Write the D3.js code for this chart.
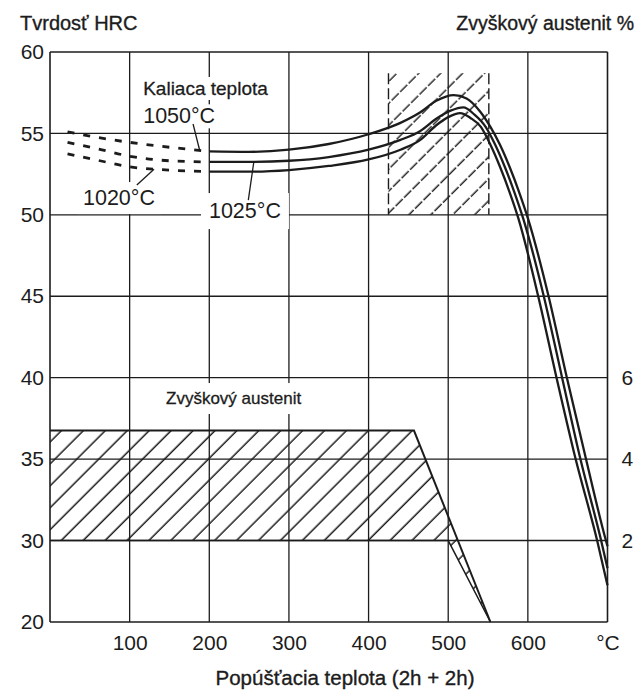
<!DOCTYPE html>
<html>
<head>
<meta charset="utf-8">
<script src="https://cdn.jsdelivr.net/npm/d3@7"></script>
<style>
  body { margin: 0; background: #fff; }
  text { font-family: "Liberation Sans", Arial, sans-serif; fill: #1c1c1c; }
</style>
</head>
<body>
<div id="chart"></div>
<script>
var svgWidth = 638;
var svgHeight = 690;

// tick labels
var tempTicks = [100, 200, 300, 400, 500, 600, 700];
var hrcTicks = [20, 30, 35, 40, 45, 50, 55, 60];
var austTicks = [2, 4, 6];

// hardness, dashed part (below 200 °C)
var dashTemp = [22, 60, 100, 150, 200];
var dash1050 = [55.1, 54.75, 54.45, 54.15, 53.9];
var dash1025 = [54.45, 54.05, 53.6, 53.32, 53.25];
var dash1020 = [53.75, 53.35, 52.95, 52.75, 52.65];

// hardness, solid part
var temp1050 = [200, 250, 300, 350, 400, 440, 465, 485, 507, 523, 540, 553, 565, 577, 589, 600, 626, 649, 673, 698, 700];
var hrc1050 = [53.9, 53.87, 54.0, 54.35, 54.95, 55.65, 56.3, 57.0, 57.35, 57.15, 56.35, 55.4, 54.3, 52.95, 51.4, 49.8, 45, 40, 35, 30, 29.3];
var temp1025 = [200, 250, 300, 350, 400, 440, 465, 485, 503, 519, 533, 547, 559, 571, 583, 594, 620, 643, 666, 692, 700];
var hrc1025 = [53.25, 53.25, 53.32, 53.55, 54.0, 54.6, 55.15, 55.9, 56.4, 56.6, 56.15, 55.4, 54.3, 52.95, 51.4, 49.8, 45, 40, 35, 30, 26.6];
var temp1020 = [200, 250, 300, 350, 400, 440, 465, 485, 500, 515, 528, 541, 553, 565, 577, 588, 613, 636, 660, 687, 700];
var hrc1020 = [52.65, 52.65, 52.75, 53.0, 53.4, 54.0, 54.6, 55.5, 56.0, 56.25, 55.95, 55.4, 54.3, 52.95, 51.4, 49.8, 45, 40, 35, 30, 24.5];

// retained austenite band (%)
var bandTopTemp = [0, 457, 553];
var bandTopPct = [4.7, 4.7, 0];
var bandLowTemp = [0, 500, 553];
var bandLowPct = [2, 2, 0];

// recommended tempering range
var rangeTemp = [425, 551];
var rangeHrc = [50, 58.7];

var svg = d3.select("#chart")
  .append("svg")
  .attr("width", svgWidth)
  .attr("height", svgHeight);

var xScale = d3.scaleLinear().domain([0, 700]).range([50, 607.5]);
var yScale = d3.scaleLinear().domain([20, 30, 60]).range([622, 540.5, 52]);
var austScale = d3.scaleLinear().domain([0, 6]).range([yScale(20), yScale(40)]);

var ink = "#1c1c1c";

// hatch patterns
var defs = svg.append("defs");
defs.append("pattern")
  .attr("id", "hatch")
  .attr("patternUnits", "userSpaceOnUse")
  .attr("width", 15.5).attr("height", 15.5)
  .attr("patternTransform", "rotate(45)")
  .append("line")
  .attr("x1", 7).attr("y1", 0).attr("x2", 7).attr("y2", 15.5)
  .attr("stroke", ink).attr("stroke-width", 1.5);

defs.append("pattern")
  .attr("id", "hatchDash")
  .attr("patternUnits", "userSpaceOnUse")
  .attr("width", 15.5).attr("height", 24)
  .attr("patternTransform", "rotate(45)")
  .append("line")
  .attr("x1", 7).attr("y1", 0).attr("x2", 7).attr("y2", 24)
  .attr("stroke", ink).attr("stroke-width", 1.4)
  .attr("stroke-dasharray", "10,2");

// grid
var grid = svg.append("g").attr("stroke", ink).attr("stroke-width", 1.3);
grid.selectAll(".vgrid")
  .data([0].concat(tempTicks))
  .enter().append("line")
  .attr("x1", d => xScale(d)).attr("x2", d => xScale(d))
  .attr("y1", yScale(60)).attr("y2", yScale(20))
  .attr("stroke-width", d => (d === 0 || d === 700) ? 1.6 : 1.3);
grid.selectAll(".hgrid")
  .data(hrcTicks)
  .enter().append("line")
  .attr("x1", xScale(0)).attr("x2", xScale(700))
  .attr("y1", d => yScale(d)).attr("y2", d => yScale(d))
  .attr("stroke-width", d => (d === 20 || d === 60) ? 1.6 : 1.3);

// axes (labels only)
var leftAxis = d3.axisLeft(yScale).tickValues(hrcTicks).tickSize(0).tickPadding(6);
var bottomAxis = d3.axisBottom(xScale).tickValues(tempTicks).tickSize(0).tickPadding(13)
  .tickFormat(d => d === 700 ? "°C" : d);
var rightAxis = d3.axisRight(austScale).tickValues(austTicks).tickSize(0).tickPadding(14)
  .tickFormat(d3.format("d"));

function styleAxis(g) {
  g.select(".domain").remove();
  g.selectAll("text").style("font-size", "21px").attr("fill", ink)
    .style("font-family", "'Liberation Sans', Arial, sans-serif");
}
svg.append("g").attr("transform", `translate(${xScale(0)},0)`).call(leftAxis).call(styleAxis);
svg.append("g").attr("transform", `translate(0,${yScale(20)})`).call(bottomAxis).call(styleAxis);
svg.append("g").attr("transform", `translate(${xScale(700)},0)`).call(rightAxis).call(styleAxis);

// annotation labels with white background breaking the grid
var labels = [
  { text: "Kaliaca teplota", t: 117, h: 57.36, size: 19, padX: 10, padY: 1 },
  { text: "1050°C", t: 117, h: 55.62, size: 21.5, padX: 4, padY: 0 },
  { text: "1020°C", t: 41.4, h: 50.6, size: 21.5, padX: 6, padY: 4 },
  { text: "1025°C", t: 199.6, h: 49.8, size: 21.5, padX: 8, padY: 6 },
  { text: "Zvyškový austenit", t: 145.7, h: 38.38, size: 17, padX: 8, padY: 6 }
];
var bgLayer = svg.append("g");
var hatchLayer = svg.append("g");
var curveLayer = svg.append("g");
var textLayer = svg.append("g");

textLayer.selectAll("text")
  .data(labels)
  .enter().append("text")
  .attr("x", d => xScale(d.t))
  .attr("y", d => yScale(d.h))
  .style("font-size", d => d.size + "px")
  .attr("stroke", ink).attr("stroke-width", d => d.size < 20 ? 0.3 : 0)
  .text(d => d.text)
  .each(function(d) {
    var b = this.getBBox();
    bgLayer.append("rect")
      .attr("x", b.x - d.padX).attr("y", b.y - d.padY)
      .attr("width", b.width + 2 * d.padX).attr("height", b.height + 2 * d.padY)
      .attr("fill", "#fff");
  });

// leader lines
var leaders = [
  [[179.6, 55.58], [188, 53.95]],
  [[109, 51.83], [130.6, 52.8]],
  [[249, 50.9], [256, 53.28]]
];
textLayer.selectAll(".leader")
  .data(leaders)
  .enter().append("line")
  .attr("x1", d => xScale(d[0][0])).attr("y1", d => yScale(d[0][1]))
  .attr("x2", d => xScale(d[1][0])).attr("y2", d => yScale(d[1][1]))
  .attr("stroke", ink).attr("stroke-width", 1.3);

// recommended tempering range (dashed hatched box)
hatchLayer.append("rect")
  .attr("x", xScale(rangeTemp[0])).attr("y", yScale(rangeHrc[1]))
  .attr("width", xScale(rangeTemp[1]) - xScale(rangeTemp[0]))
  .attr("height", yScale(rangeHrc[0]) - yScale(rangeHrc[1]))
  .attr("fill", "url(#hatchDash)");
hatchLayer.selectAll(".rangeSide")
  .data(rangeTemp)
  .enter().append("line")
  .attr("x1", d => xScale(d)).attr("x2", d => xScale(d))
  .attr("y1", yScale(rangeHrc[1])).attr("y2", yScale(rangeHrc[0]))
  .attr("stroke", ink).attr("stroke-width", 1.4)
  .attr("stroke-dasharray", "11,4");

// retained austenite band
var bandTop = bandTopTemp.map((t, i) => [t, bandTopPct[i]]);
var bandLow = bandLowTemp.map((t, i) => [t, bandLowPct[i]]);
var pLine = d3.line().x(d => xScale(d[0])).y(d => austScale(d[1]));
hatchLayer.append("path")
  .attr("d", pLine(bandTop.concat(bandLow.slice().reverse())) + "Z")
  .attr("fill", "url(#hatch)");
hatchLayer.append("path")
  .attr("d", pLine(bandTop))
  .attr("fill", "none").attr("stroke", ink).attr("stroke-width", 2);
hatchLayer.append("path")
  .attr("d", pLine(bandLow))
  .attr("fill", "none").attr("stroke", ink).attr("stroke-width", 1.5);

// hardness curves
var cLine = d3.line()
  .x(d => xScale(d[0])).y(d => yScale(d[1]))
  .curve(d3.curveMonotoneX);
var zip = (a, b) => a.map((t, i) => [t, b[i]]);

[dash1050, dash1025, dash1020].forEach(function(v) {
  curveLayer.append("path")
    .attr("d", cLine(zip(dashTemp, v)))
    .attr("fill", "none").attr("stroke", ink)
    .attr("stroke-width", 2.8).attr("stroke-dasharray", "7,9");
});
[[temp1050, hrc1050], [temp1025, hrc1025], [temp1020, hrc1020]].forEach(function(s) {
  curveLayer.append("path")
    .attr("d", cLine(zip(s[0], s[1])))
    .attr("fill", "none").attr("stroke", ink)
    .attr("stroke-width", 2.3);
});

// axis titles
svg.append("text").attr("x", 20).attr("y", 30)
  .style("font-size", "20px").attr("stroke", ink).attr("stroke-width", 0.35)
  .text("Tvrdosť HRC");
svg.append("text").attr("x", 634).attr("y", 30).attr("text-anchor", "end")
  .style("font-size", "19.5px").attr("stroke", ink).attr("stroke-width", 0.35)
  .text("Zvyškový austenit %");
svg.append("text").attr("x", 345).attr("y", 685).attr("text-anchor", "middle")
  .style("font-size", "20.5px").attr("stroke", ink).attr("stroke-width", 0.35)
  .text("Popúšťacia teplota (2h + 2h)");
</script>
</body>
</html>
